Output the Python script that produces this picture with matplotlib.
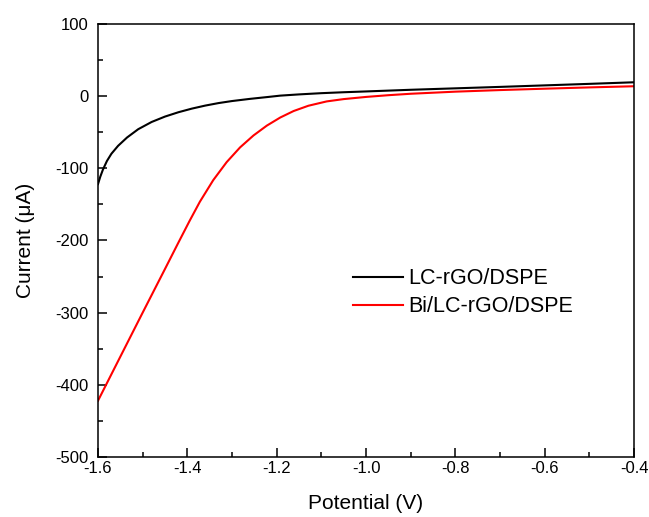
import matplotlib
matplotlib.use("Agg")
import matplotlib.pyplot as plt
from matplotlib.ticker import MultipleLocator

plt.rcParams['font.family'] = ['Liberation Sans', 'DejaVu Sans']
plt.rcParams['axes.unicode_minus'] = False

# Data
pot_black = [-1.600, -1.595, -1.589, -1.580, -1.570, -1.555, -1.535, -1.510, -1.480,
             -1.450, -1.420, -1.390, -1.360, -1.330, -1.300, -1.260, -1.220, -1.192,
             -1.150, -1.100, -1.050, -1.000, -0.900, -0.800, -0.700, -0.600, -0.500,
             -0.400]
cur_black = [-122, -112, -102, -90, -80, -69, -57.5, -46, -36,
             -28.5, -22.5, -17.5, -13.3, -9.8, -7, -4, -1.4, 0.5,
             2.2, 3.9, 5.2, 6.3, 8.6, 10.6, 12.6, 14.7, 16.8,
             19]

pot_red = [-1.600, -1.550, -1.500, -1.450, -1.420, -1.395, -1.372, -1.342, -1.312,
           -1.282, -1.252, -1.222, -1.192, -1.162, -1.129, -1.088, -1.050, -1.000,
           -0.950, -0.900, -0.800, -0.700, -0.600, -0.500, -0.400]
cur_red = [-422, -361, -300, -239.5, -203, -173, -146.5, -116.5, -91.6,
           -71.2, -54.7, -41, -29.8, -20.8, -13.5, -7.5, -4.3, -1.3,
           1.1, 3.1, 6, 8.2, 10.1, 11.9, 13.5]

labels = ["LC-rGO/DSPE", "Bi/LC-rGO/DSPE"]
xticks = [-1.6, -1.4, -1.2, -1.0, -0.8, -0.6, -0.4]
xticklabels = ["-1.6", "-1.4", "-1.2", "-1.0", "-0.8", "-0.6", "-0.4"]
yticks = [-500, -400, -300, -200, -100, 0, 100]

fig = plt.figure(figsize=(6.49, 5.17), dpi=100)
ax = fig.add_axes([0.151, 0.116, 0.826, 0.838])

ax.plot(pot_black, cur_black, color='black', lw=1.5, label=labels[0])
ax.plot(pot_red, cur_red, color='#ff0000', lw=1.5, label=labels[1])

ax.set_xlim(-1.6, -0.4)
ax.set_ylim(-500, 100)
ax.set_xticks(xticks)
ax.set_xticklabels(xticklabels)
ax.set_yticks(yticks)
ax.xaxis.set_minor_locator(MultipleLocator(0.1))
ax.yaxis.set_minor_locator(MultipleLocator(50))

ax.tick_params(which='both', direction='in', top=False, right=False, labelsize=12, width=1.1)
ax.tick_params(axis='x', which='major', length=6.5, pad=3)
ax.tick_params(axis='y', which='major', length=6.5, pad=7)
ax.tick_params(which='minor', length=3.5)
for s in ax.spines.values():
    s.set_linewidth(1.1)

ax.set_xlabel("Potential (V)", fontsize=15, labelpad=13)
ax.set_ylabel("Current (\u03bcA)", fontsize=15, labelpad=14)

ax.legend(loc='upper left', bbox_to_anchor=(0.476, 0.436), frameon=False,
          fontsize=15.5, handlelength=2.3, handletextpad=0.25, labelspacing=0.33,
          borderpad=0, borderaxespad=0)

fig.savefig("out.png", dpi=100)
